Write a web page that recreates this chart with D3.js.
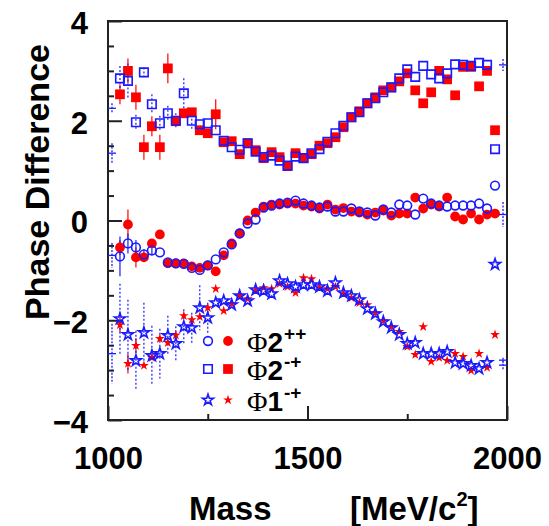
<!DOCTYPE html>
<html>
<head>
<meta charset="utf-8">
<script src="https://cdn.jsdelivr.net/npm/d3@7"></script>
<style>
body { margin: 0; background: #fff; }
text { font-family: "Liberation Sans", Arial, sans-serif; font-weight: bold; fill: #000; }
</style>
</head>
<body>
<script>
// mass bins (MeV/c^2)
var mass = [1030,1050,1070,1090,1110,1130,1150,1170,1190,1210,1230,1250,1270,1290,1310,1330,1350,1370,1390,1410,1430,1450,1470,1490,
            1510,1530,1550,1570,1590,1610,1630,1650,1670,1690,1710,1730,1750,1770,1790,1810,1830,1850,1870,1890,1910,1930,1950,1970];

// Phi 2-+ (squares)
var sqBlue = [2.85,2.8,1.97,2.97,2.33,1.95,2.15,2.0,2.55,2.0,1.93,1.95,1.81,1.6,1.47,1.42,1.55,1.38,1.27,1.3,1.2,1.1,1.28,1.25,
              1.35,1.43,1.58,1.75,1.9,2.07,2.17,2.35,2.45,2.57,2.67,2.85,3.03,2.88,3.1,2.93,2.85,2.95,3.13,3.12,3.1,3.16,3.12,1.43];
var sqRed  = [2.53,3.0,2.47,1.47,1.89,1.47,3.05,1.99,2.15,2.17,1.81,1.75,2.13,1.57,1.59,1.33,1.55,1.41,1.25,1.37,1.27,1.09,1.35,1.25,
              1.33,1.5,1.55,1.67,1.87,2.07,2.19,2.35,2.47,2.61,2.67,2.79,2.95,2.61,2.35,2.57,3.0,2.83,2.51,3.08,3.08,2.69,3.0,1.81];
// Phi 2++ (circles)
var ciBlue = [-0.72,-0.46,-0.54,-0.68,-0.6,-0.64,-0.84,-0.86,-0.87,-0.95,-0.99,-0.9,-0.78,-0.64,-0.48,-0.26,-0.06,0.02,0.26,0.3,0.34,0.36,0.4,0.34,
              0.3,0.26,0.28,0.18,0.18,0.24,0.18,0.16,0.1,0.22,0.16,0.32,0.3,0.12,0.44,0.34,0.3,0.28,0.3,0.3,0.3,0.34,0.24,0.7];
var ciRed  = [-0.54,-0.08,-0.74,-0.74,-0.46,-0.28,-0.86,-0.86,-0.86,-0.92,-0.95,-0.9,-1.02,-0.7,-0.46,-0.26,0.0,0.16,0.28,0.32,0.32,0.34,0.34,0.3,
              0.28,0.24,0.32,0.22,0.25,0.18,0.16,0.12,0.16,0.2,0.1,0.14,0.14,0.46,0.24,0.32,0.28,0.46,0.08,0.02,0.14,0.02,0.12,0.14];
// Phi 1-+ (stars)
var stBlue = [-1.97,-2.29,-2.81,-2.25,-2.71,-2.67,-2.31,-2.47,-2.13,-2.15,-1.75,-1.95,-1.65,-1.61,-1.69,-1.51,-1.61,-1.39,-1.41,-1.47,-1.21,-1.27,-1.33,-1.29,
              -1.29,-1.33,-1.41,-1.25,-1.45,-1.51,-1.59,-1.77,-1.87,-2.03,-2.15,-2.29,-2.47,-2.45,-2.67,-2.67,-2.67,-2.63,-2.85,-2.87,-2.91,-2.97,-2.85,-0.88];
var stRed  = [-2.09,-2.87,-2.51,-2.91,-2.75,-2.37,-2.45,-2.3,-1.91,-1.99,-1.93,-1.75,-1.37,-1.81,-1.67,-1.51,-1.57,-1.41,-1.35,-1.37,-1.27,-1.33,-1.45,-1.15,
              -1.17,-1.35,-1.37,-1.33,-1.47,-1.55,-1.65,-1.69,-1.85,-2.01,-2.13,-2.23,-2.53,-2.69,-2.13,-2.83,-2.75,-2.81,-2.67,-2.73,-3.01,-2.67,-2.95,-2.29];

// error half-widths (first bins only, the rest are hidden under markers)
var errSqBlue = [0.25,0.35,0.15,0.1,0.2,0.15,0.15,0.15,0.3,0.2];
var errSqRed  = [0.2,0.25,0.25,0.25,0.2,0.25,0.3,0,0,0,0,0,0.3];
var errCiBlue = [0.4,0.2,0.15,0.1,0.1];
var errCiRed  = [0.15,0.3,0.2];
var errStBlue = [0.7,0.7,0.6,0.6,0.6,0.5,0.4,0.35,0.35,0.3,0.45,0.3];
var errStRed  = [0.15,0.2,0.15];

// edge points drawn as crosses
var edgeMass = [1010,1010,1010,1010,1990,1990,1990,1990];
var edgeVal  = [2.25,1.35,-0.7,-2.67,3.12,0.12,-2.8,-2.9];
var edgeErr  = [0.1,0.2,0.25,0.6,0.12,0.25,0.05,0.1];

var width = 549, height = 526;
var x = d3.scaleLinear().domain([1000, 2000]).range([108, 507]);
var y = d3.scaleLinear().domain([-4, 4]).range([420, 21]);

var blue = "#1a1aff", red = "#ff0000";

var svg = d3.select("body").append("svg")
    .attr("width", width)
    .attr("height", height);

// axes
var xMajor = d3.axisBottom(x).tickValues([1000, 1500, 2000]).tickSize(-14).tickPadding(27).tickFormat(d3.format("d"));
var xMinor = d3.axisBottom(x).tickValues([1250, 1750]).tickSize(-6).tickFormat("");
var yMajor = d3.axisLeft(y).tickValues([-4, -2, 0, 2, 4]).tickSize(-14).tickPadding(20);
var yMinor = d3.axisLeft(y).tickValues([-3.5,-3,-2.5,-1.5,-1,-0.5,0.5,1,1.5,2.5,3,3.5]).tickSize(-6).tickFormat("");

function styleAxis(g) {
    g.select(".domain").remove();
    g.selectAll("line").attr("stroke", "#222").attr("stroke-width", 2);
    g.selectAll("text").style("font-size", "31px").attr("fill", "#000");
}
svg.append("g").attr("transform", "translate(0,420)").call(xMajor).call(styleAxis);
svg.append("g").attr("transform", "translate(0,420)").call(xMinor).call(styleAxis);
svg.append("g").attr("transform", "translate(108,0)").call(yMajor).call(styleAxis)
    .selectAll("text").attr("dy", "0.4em");
svg.append("g").attr("transform", "translate(108,0)").call(yMinor).call(styleAxis);

// frame
svg.append("rect")
    .attr("x", 108).attr("y", 21).attr("width", 399).attr("height", 399)
    .attr("fill", "none").attr("stroke", "#222").attr("stroke-width", 2);

var plot = svg.append("g");

function errorBars(vals, errs, color, dashed) {
    var pts = mass.map(function(m, i) { return {m: m, v: vals[i], e: errs[i] || 0}; })
        .filter(function(d) { return d.e > 0; });
    plot.append("g").selectAll("line").data(pts).enter().append("line")
        .attr("x1", function(d) { return x(d.m); })
        .attr("x2", function(d) { return x(d.m); })
        .attr("y1", function(d) { return y(d.v + d.e); })
        .attr("y2", function(d) { return y(d.v - d.e); })
        .attr("stroke", color)
        .attr("stroke-width", 1.2)
        .attr("stroke-dasharray", dashed ? "2,2" : null);
}

function markers(vals, type, size, color, filled) {
    plot.append("g").selectAll("path").data(mass.map(function(m, i) { return {m: m, v: vals[i]}; }))
        .enter().append("path")
        .attr("transform", function(d) { return "translate(" + x(d.m) + "," + y(d.v) + ")"; })
        .attr("d", d3.symbol().type(type).size(size))
        .attr("fill", filled ? color : "none")
        .attr("stroke", filled ? "none" : color)
        .attr("stroke-width", 1.6);
}

errorBars(sqRed, errSqRed, red, false);
errorBars(ciRed, errCiRed, red, false);
errorBars(stRed, errStRed, red, false);
errorBars(sqBlue, errSqBlue, blue, true);
errorBars(ciBlue, errCiBlue, blue, false);
errorBars(stBlue, errStBlue, blue, true);

markers(sqRed, d3.symbolSquare, 95, red, true);
markers(ciRed, d3.symbolCircle, 75, red, true);
markers(stRed, d3.symbolStar, 30, red, true);
markers(sqBlue, d3.symbolSquare, 72, blue, false);
markers(ciBlue, d3.symbolCircle, 60, blue, false);
markers(stBlue, d3.symbolStar, 38, blue, false);

// edge crosses
var edges = plot.append("g").selectAll("g")
    .data(edgeMass.map(function(m, i) { return {m: m, v: edgeVal[i], e: edgeErr[i]}; }))
    .enter().append("g").attr("stroke", blue).attr("stroke-width", 1.3);
edges.append("line")
    .attr("x1", function(d) { return x(d.m) - 4; })
    .attr("x2", function(d) { return x(d.m) + 4; })
    .attr("y1", function(d) { return y(d.v); })
    .attr("y2", function(d) { return y(d.v); });
edges.append("line")
    .attr("x1", function(d) { return x(d.m); })
    .attr("x2", function(d) { return x(d.m); })
    .attr("y1", function(d) { return y(d.v + d.e); })
    .attr("y2", function(d) { return y(d.v - d.e); })
    .attr("stroke-dasharray", "2,1.5");

// legend
var legendRows = [
    {type: d3.symbolCircle, openSize: 60, fillSize: 75, num: "2", sup: "++", cy: 341},
    {type: d3.symbolSquare, openSize: 72, fillSize: 95, num: "2", sup: "-+", cy: 369},
    {type: d3.symbolStar, openSize: 38, fillSize: 30, num: "1", sup: "-+", cy: 400}
];
var leg = svg.append("g").selectAll("g").data(legendRows).enter().append("g");
leg.append("path")
    .attr("transform", function(d) { return "translate(208," + d.cy + ")"; })
    .attr("d", function(d) { return d3.symbol().type(d.type).size(d.openSize)(); })
    .attr("fill", "none").attr("stroke", blue).attr("stroke-width", 1.6);
leg.append("path")
    .attr("transform", function(d) { return "translate(228," + d.cy + ")"; })
    .attr("d", function(d) { return d3.symbol().type(d.type).size(d.fillSize)(); })
    .attr("fill", red);
var lt = leg.append("text")
    .attr("x", 247)
    .attr("y", function(d) { return d.cy + 11; });
lt.append("tspan")
    .style("font-family", "'Liberation Serif', 'DejaVu Serif', serif")
    .style("font-weight", "normal")
    .style("font-size", "28px")
    .text("\u03A6");
lt.append("tspan")
    .style("font-size", "28px")
    .text(function(d) { return d.num; });
lt.append("tspan")
    .attr("dy", -12)
    .attr("dx", 1)
    .style("font-size", "19px")
    .text(function(d) { return d.sup; });

// axis titles
svg.append("text")
    .attr("transform", "translate(49,182) rotate(-90)")
    .attr("text-anchor", "middle")
    .style("font-size", "34px")
    .text("Phase Difference");

svg.append("text")
    .attr("x", 189).attr("y", 520)
    .style("font-size", "33px")
    .text("Mass");
var unit = svg.append("text")
    .attr("x", 350).attr("y", 520)
    .style("font-size", "33px");
unit.append("tspan").text("[MeV/c");
unit.append("tspan").attr("dy", -14).style("font-size", "20px").text("2");
unit.append("tspan").attr("dy", 14).text("]");
</script>
</body>
</html>
